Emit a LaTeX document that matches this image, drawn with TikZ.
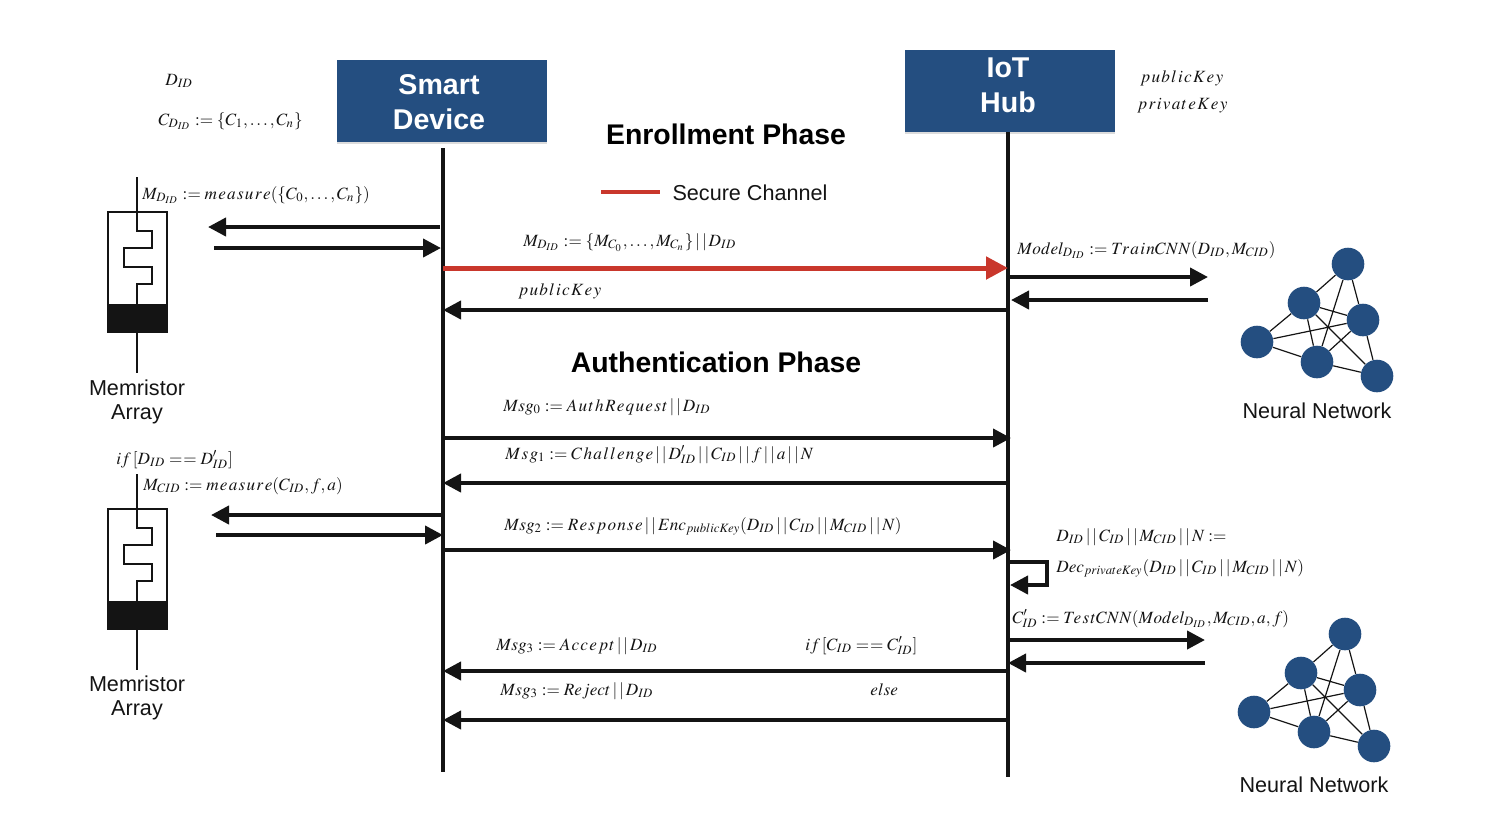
\documentclass[tikz,border=0pt]{standalone}
\usepackage{mathptmx}
\usepackage[no-math]{fontspec}
\setsansfont{Liberation Sans}
\usetikzlibrary{arrows.meta,shadows}
\definecolor{boxblue}{RGB}{36,78,128}
\definecolor{chanred}{RGB}{201,55,44}
\definecolor{inkblack}{RGB}{20,20,20}
\newcommand{\bars}{\,|\,|\,}
% spaced out math words
\def\wrd#1{\wrdstep#1\relax}
\def\wrdstep#1#2{#1\ifx#2\relax\else\mkern1.3mu\expandafter\wrdstep\expandafter#2\fi}
\tikzset{
	lifeline/.style={draw=inkblack,line width=2pt},
	msgarrow/.style={draw=inkblack,line width=2pt,-{Triangle[length=9pt,width=9pt]}},
	secarrow/.style={draw=chanred,line width=2.5pt,-{Triangle[length=11pt,width=11pt]}},
	titlebox/.style={rectangle,fill=boxblue,minimum width=105pt,minimum height=41pt,inner sep=0pt,drop shadow={shadow xshift=0pt,shadow yshift=-1.2pt,opacity=.28}},
	titletext/.style={text=white,font=\sffamily\bfseries\fontsize{14.3}{17.5}\selectfont,align=center,inner sep=0pt},
	phase/.style={font=\sffamily\bfseries\fontsize{14.2}{17}\selectfont,inner sep=0pt},
	plain/.style={font=\sffamily\fontsize{10.8}{12}\selectfont,align=center,inner sep=0pt,text=inkblack},
	lbl/.style={anchor=base west,inner sep=0pt,font=\fontsize{8.6}{10}\selectfont,text=inkblack},
	neuron/.style={circle,fill=boxblue,minimum size=16.3pt,inner sep=0pt},
	nnedge/.style={draw=inkblack,line width=0.6pt},
	memline/.style={draw=inkblack,line width=1.3pt},
}
\begin{document}
\begin{tikzpicture}[x=0.5pt,y=-0.5pt]
	\useasboundingbox (0,0) rectangle (1508,816);
	% headers
	\node[name=smart,titlebox] at (442,101){};
	\node[name=hub,titlebox] at (1009.5,91){};
	\node[name=smarttext,titletext] at (439,102.5){Smart\\Device};
	\node[name=hubtext,titletext] at (1008,85.5){IoT\\Hub};
	\node[name=enroll,phase] at (726,134){Enrollment Phase};
	\node[name=auth,phase] at (716,362){Authentication Phase};
	\node[name=secure,plain] at (750,193){Secure Channel};
	\coordinate (keya) at (601,192);
	\coordinate (keyb) at (660,192);
	\draw[draw=chanred,line width=2pt] (keya) -- (keyb);
	% lifelines
	\coordinate (devtop) at (443,148);
	\coordinate (devend) at (443,772);
	\coordinate (hubtop) at (1008,132);
	\coordinate (hubend) at (1008,777);
	\draw[lifeline] (devtop) -- (devend);
	\draw[lifeline] (hubtop) -- (hubend);
	% enrollment messages
	\coordinate (m1a) at (440,227);
	\coordinate (m1b) at (208,227);
	\coordinate (m2a) at (214,248);
	\coordinate (m2b) at (441,248);
	\coordinate (m3a) at (443,268);
	\coordinate (m3b) at (1008,268);
	\coordinate (m4a) at (1008,310);
	\coordinate (m4b) at (443,310);
	\coordinate (m5a) at (1010,277);
	\coordinate (m5b) at (1208,277);
	\coordinate (m6a) at (1208,300);
	\coordinate (m6b) at (1011,300);
	\draw[msgarrow] (m1a) -- (m1b);
	\draw[msgarrow] (m2a) -- (m2b);
	\draw[secarrow] (m3a) -- (m3b);
	\draw[msgarrow] (m4a) -- (m4b);
	\draw[msgarrow] (m5a) -- (m5b);
	\draw[msgarrow] (m6a) -- (m6b);
	% authentication messages
	\coordinate (a1a) at (443,438);
	\coordinate (a1b) at (1011,438);
	\coordinate (a2a) at (1008,483);
	\coordinate (a2b) at (443,483);
	\coordinate (a3a) at (443,515);
	\coordinate (a3b) at (211,515);
	\coordinate (a4a) at (216,535);
	\coordinate (a4b) at (443,535);
	\coordinate (a5a) at (443,550);
	\coordinate (a5b) at (1011,550);
	\coordinate (loopa) at (1010,562);
	\coordinate (loopb) at (1047,562);
	\coordinate (loopc) at (1047,585);
	\coordinate (loopd) at (1010,585);
	\coordinate (a6a) at (1010,640);
	\coordinate (a6b) at (1205,640);
	\coordinate (a7a) at (1205,663);
	\coordinate (a7b) at (1008,663);
	\coordinate (a8a) at (1008,671);
	\coordinate (a8b) at (443,671);
	\coordinate (a9a) at (1008,720);
	\coordinate (a9b) at (443,720);
	\draw[msgarrow] (a1a) -- (a1b);
	\draw[msgarrow] (a2a) -- (a2b);
	\draw[msgarrow] (a3a) -- (a3b);
	\draw[msgarrow] (a4a) -- (a4b);
	\draw[msgarrow] (a5a) -- (a5b);
	\draw[msgarrow] (loopa) -- (loopb) -- (loopc) -- (loopd);
	\draw[msgarrow] (a6a) -- (a6b);
	\draw[msgarrow] (a7a) -- (a7b);
	\draw[msgarrow] (a8a) -- (a8b);
	\draw[msgarrow] (a9a) -- (a9b);
	% memristor arrays
	\draw[line width=0.8pt,draw=inkblack] (108,212) rectangle (167,332);
	\fill[inkblack] (108,304) rectangle (167,332);
	\draw[memline] (137,177) -- (137,231) -- (152,231) -- (152,248) -- (124,248) -- (124,267) -- (152,267) -- (152,284) -- (137,284) -- (137,304);
	\draw[memline] (137,332) -- (137,373);
	\node[name=mema,plain] at (137,402){Memristor\\Array};
	\draw[line width=0.8pt,draw=inkblack] (108,509) rectangle (167,629);
	\fill[inkblack] (108,601) rectangle (167,629);
	\draw[memline] (137,474) -- (137,528) -- (152,528) -- (152,545) -- (124,545) -- (124,564) -- (152,564) -- (152,581) -- (137,581) -- (137,601);
	\draw[memline] (137,629) -- (137,670);
	\node[name=memb,plain] at (137,698){Memristor\\Array};
	% neural networks
	\node[name=na,neuron] at (1348,264){};
	\node[name=nb,neuron] at (1304,303){};
	\node[name=nc,neuron] at (1363,320){};
	\node[name=nd,neuron] at (1257,342){};
	\node[name=ne,neuron] at (1317,362){};
	\node[name=nf,neuron] at (1377,376){};
	\draw[nnedge] (na) -- (nb) (na) -- (nc) (na) -- (ne) (nb) -- (nc) (nb) -- (nd) (nb) -- (ne);
	\draw[nnedge] (nb) -- (nf) (nc) -- (nd) (nc) -- (ne) (nc) -- (nf) (nd) -- (ne) (ne) -- (nf);
	\node[name=neta,plain] at (1317,411){Neural Network};
	\node[name=pa,neuron] at (1345,634){};
	\node[name=pb,neuron] at (1301,673){};
	\node[name=pc,neuron] at (1360,690){};
	\node[name=pd,neuron] at (1254,712){};
	\node[name=pe,neuron] at (1314,732){};
	\node[name=pf,neuron] at (1374,746){};
	\draw[nnedge] (pa) -- (pb) (pa) -- (pc) (pa) -- (pe) (pb) -- (pc) (pb) -- (pd) (pb) -- (pe);
	\draw[nnedge] (pb) -- (pf) (pc) -- (pd) (pc) -- (pe) (pc) -- (pf) (pd) -- (pe) (pe) -- (pf);
	\node[name=netb,plain] at (1314,785){Neural Network};
	% labels
	\node[name=t1,lbl] at (165,85){$D_{ID}$};
	\node[name=t2,lbl] at (158,125){$C_{D_{ID}} := \{C_1,\ldots,C_n\}$};
	\node[name=t3,lbl] at (142,199){$M_{D_{ID}} := \wrd{measure}(\{C_0,\ldots,C_n\})$};
	\node[name=t4,lbl] at (1140,82){$\wrd{publicKey}$};
	\node[name=t5,lbl] at (1137,109){$\wrd{privateKey}$};
	\node[name=t6,lbl] at (523,246){$M_{D_{ID}} := \{M_{C_0},\ldots,M_{C_n}\}\bars D_{ID}$};
	\node[name=t7,lbl] at (518,295){$\wrd{publicKey}$};
	\node[name=t8,lbl] at (1017,254){$Model_{D_{ID}} := T\wrd{rain}CNN(D_{ID},M_{CID})$};
	\node[name=t9,lbl] at (503,411){$Msg_0 := \wrd{AuthRequest}\bars D_{ID}$};
	\node[name=t10,lbl] at (505,459){$\wrd{Msg}_1 := \wrd{Challenge}\bars D'_{ID}\bars C_{ID}\bars f\bars a\bars N$};
	\node[name=t11,lbl] at (504,530){$Msg_2 := \wrd{Response}\bars Enc_{publicKey}(D_{ID}\bars C_{ID}\bars M_{CID}\bars N)$};
	\node[name=t12,lbl] at (496,650){$Msg_3 := \wrd{Accept}\bars D_{ID}$};
	\node[name=t13,lbl] at (805,650){$if\,[C_{ID} =\mkern1mu= C'_{ID}]$};
	\node[name=t14,lbl] at (500,695){$Msg_3 := Reject\bars D_{ID}$};
	\node[name=t15,lbl] at (870,695){$else$};
	\node[name=t16,lbl] at (116,464){$if\,[D_{ID} =\mkern1mu= D'_{ID}]$};
	\node[name=t17,lbl] at (143,490){$M_{CID} := \wrd{measure}(C_{ID},f,a)$};
	\node[name=t18,lbl] at (1056,541){$D_{ID}\bars C_{ID}\bars M_{CID}\bars N :=$};
	\node[name=t19,lbl] at (1056,572){$Dec_{privateKey}(D_{ID}\bars C_{ID}\bars M_{CID}\bars N)$};
	\node[name=t20,lbl] at (1012,623){$C'_{ID} := T\wrd{est}CNN(Model_{D_{ID}},M_{CID},a,f)$};
\end{tikzpicture}
\end{document}
